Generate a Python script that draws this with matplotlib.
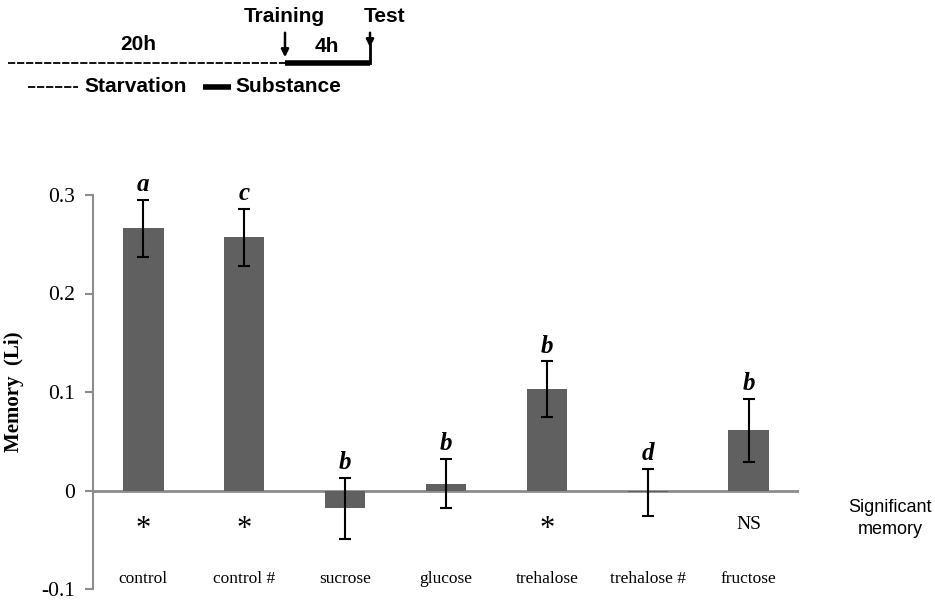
import matplotlib.pyplot as plt
import numpy as np

# data
groups = ["control", "control #", "sucrose", "glucose", "trehalose", "trehalose #", "fructose"]
memory = [0.266, 0.257, -0.018, 0.007, 0.103, -0.002, 0.061]
sem = [0.029, 0.029, 0.031, 0.025, 0.028, 0.024, 0.032]
letters = ["a", "c", "b", "b", "b", "d", "b"]
signif = ["*", "*", "", "", "*", "", "NS"]
yticks = [-0.1, 0, 0.1, 0.2, 0.3]
ytick_labels = ["-0.1", "0", "0.1", "0.2", "0.3"]

plt.rcParams['font.family'] = ['Liberation Serif', 'DejaVu Serif']

fig = plt.figure(figsize=(9.35, 6.02), dpi=100)
ax = fig.add_axes([93/935, 13/602, 706/935, 394/602])

x = np.arange(len(groups))
ax.bar(x, memory, width=0.4, color='#606060', zorder=2)
ax.errorbar(x, memory, yerr=sem, fmt='none', ecolor='black', elinewidth=1.5,
            capsize=4.5, capthick=1.5, zorder=3)
ax.axhline(0, color='#8c8c8c', lw=2, zorder=1)

ax.set_xlim(-0.5, 6.5)
ax.set_ylim(-0.1, 0.3)
ax.set_yticks(yticks)
ax.set_yticklabels(ytick_labels, fontsize=15.5)
ax.set_xticks([])
for s in ['top', 'right', 'bottom']:
    ax.spines[s].set_visible(False)
ax.spines['left'].set_color('#8c8c8c')
ax.spines['left'].set_linewidth(1.5)
ax.tick_params(axis='y', direction='out', length=6, width=1.5, color='#8c8c8c', pad=7)
ax.set_ylabel("Memory  (Li)", fontsize=15, fontweight='bold', labelpad=12)

for xi, m, e, lt in zip(x, memory, sem, letters):
    ax.text(xi, m + e + 0.004, lt, ha='center', va='bottom', fontsize=18,
            fontweight='bold', fontstyle='italic')

for xi, s in zip(x, signif):
    if s == "*":
        ax.text(xi, -0.04, s, ha='center', va='center', fontsize=22)
    elif s:
        ax.text(xi, -0.035, s, ha='center', va='center', fontsize=14)

for xi, g in zip(x, groups):
    ax.text(xi, -0.09, g, ha='center', va='center', fontsize=12.5)

fig.text(890/935, 1 - 508/602, "Significant", ha='center', va='center',
         fontsize=13, family='Liberation Sans')
fig.text(890/935, 1 - 529/602, "memory", ha='center', va='center',
         fontsize=13, family='Liberation Sans')

# protocol diagram at the top (pixel coordinates)
top = fig.add_axes([0, 0, 1, 1], zorder=-1)
top.set_xlim(0, 935)
top.set_ylim(602, 0)
top.axis('off')
top.plot([8, 285], [63, 63], color='black', lw=1.3, ls=(0, (4, 1)))
top.plot([285, 370], [63, 63], color='black', lw=4, solid_capstyle='butt')
top.plot([370, 370], [63, 45], color='black', lw=2)
top.annotate("", xy=(285, 60), xytext=(285, 30),
             arrowprops=dict(arrowstyle='-|>', color='black', lw=1.8, mutation_scale=11))
top.annotate("", xy=(370, 50), xytext=(370, 30),
             arrowprops=dict(arrowstyle='-|>', color='black', lw=1.8, mutation_scale=11))
bold_sans = dict(family='Liberation Sans', fontweight='heavy', fontsize=15)
top.text(284, 16, "Training", ha='center', va='center', **bold_sans)
top.text(385, 16, "Test", ha='center', va='center', **bold_sans)
top.text(138, 45, "20h", ha='center', va='center', **bold_sans)
top.text(327, 47, "4h", ha='center', va='center', **bold_sans)
top.plot([28, 78], [87, 87], color='black', lw=1.3, ls=(0, (4, 1)))
top.text(84, 87, "Starvation", ha='left', va='center', **bold_sans)
top.plot([203, 231], [87, 87], color='black', lw=4, solid_capstyle='butt')
top.text(235, 87, "Substance", ha='left', va='center', **bold_sans)

fig.savefig("out.png", dpi=100)
